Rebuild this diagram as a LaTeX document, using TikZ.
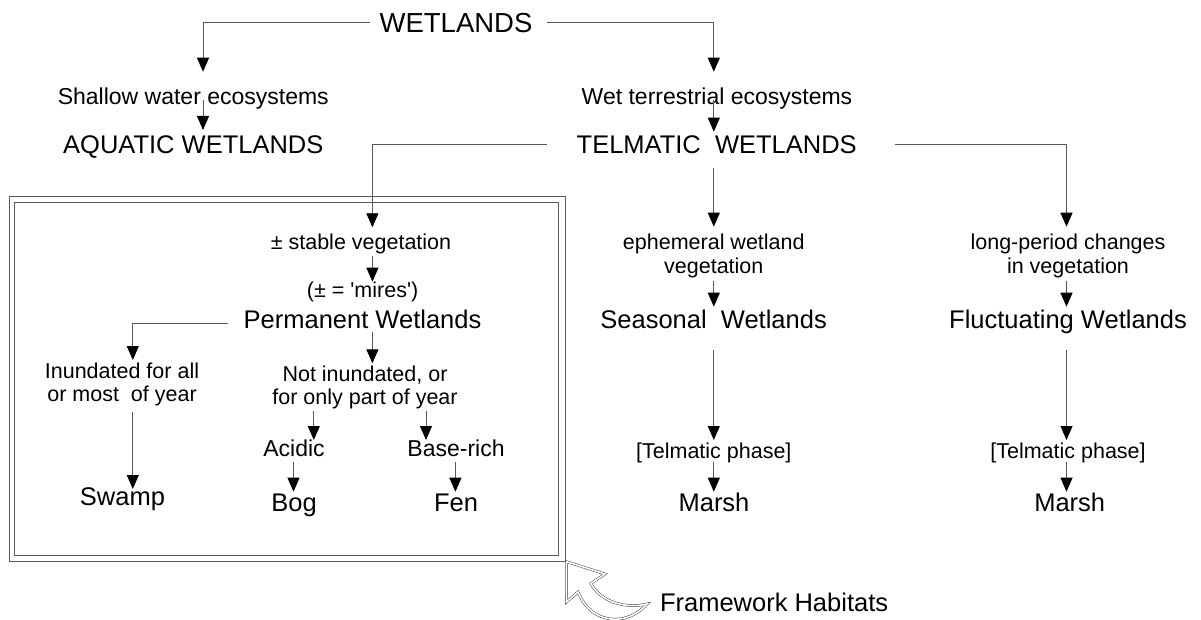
\documentclass[tikz,border=0pt]{standalone}
\usepackage{fontspec}
\setmainfont{Liberation Sans}
\usetikzlibrary{arrows.meta,calc}
\newcommand\fW{\fontsize{27.5}{30}\selectfont}
\newcommand\fB{\fontsize{25.5}{28}\selectfont}
\newcommand\fM{\fontsize{23}{26}\selectfont}
\newcommand\fS{\fontsize{21.5}{23.5}\selectfont}
\begin{document}
\begin{tikzpicture}[x=1pt,y=-1pt,
  lbl/.style={inner sep=0pt, outer sep=0pt, text=black},
  conn/.style={draw=black!65, line width=0.9pt, -{Triangle[length=14pt,width=12pt,color=black]}},
  frameline/.style={draw=black!65, line width=0.8pt},
  bigarrow/.style={draw=black!75, line width=0.5pt, double=white, double distance=1.6pt, line join=miter}
]
\useasboundingbox (0,0) rectangle (1201,620);
% column x positions
\coordinate (cA) at (203,0);
\coordinate (cT) at (713.8,0);
\coordinate (cP) at (372.4,0);
\coordinate (cR) at (1066.5,0);
\coordinate (cS) at (132.8,0);
\coordinate (cAc) at (313.8,0);
\coordinate (cBr) at (426,0);
\coordinate (cBg) at (293.5,0);
\coordinate (cFn) at (455.4,0);

% texts
\node[lbl, font=\fW, anchor=base] (wet) at (456,32.3) {WETLANDS};
\node[lbl, font=\fM, anchor=base] (shallow) at (193.3,105) {Shallow water ecosystems};
\node[lbl, font=\fM, anchor=base] (terr) at (717,105) {Wet terrestrial ecosystems};
\node[lbl, font=\fB, anchor=base] (aqua) at (193.3,153.3) {AQUATIC WETLANDS};
\node[lbl, font=\fB, anchor=base] (telm) at (716.7,153.3) {TELMATIC\ \ WETLANDS};
\node[lbl, font=\fS, anchor=base] (stable) at (361,250) {± stable vegetation};
\node[lbl, font=\fS, anchor=base] (mires) at (362.6,297) {(± = \textquotesingle mires\textquotesingle)};
\node[lbl, font=\fB, anchor=base] (perm) at (362.5,328) {Permanent Wetlands};
\node[lbl, font=\fS, align=center, anchor=north] (ephem) at (713.8,234.1) {ephemeral wetland\\vegetation};
\node[lbl, font=\fS, align=center, anchor=north] (longp) at (1068,234.1) {long-period changes\\in vegetation};
\node[lbl, font=\fB, anchor=base] (seas) at (713.6,328) {Seasonal\ \ Wetlands};
\node[lbl, font=\fB, anchor=base] (fluct) at (1068,328) {Fluctuating Wetlands};
\node[lbl, font=\fS, anchor=base] (tel1) at (713.8,458.5) {[Telmatic phase]};
\node[lbl, font=\fS, anchor=base] (tel2) at (1068,458.5) {[Telmatic phase]};
\node[lbl, font=\fB, anchor=base] (marsh1) at (714,511.7) {Marsh};
\node[lbl, font=\fB, anchor=base] (marsh2) at (1069.7,511.7) {Marsh};
\node[lbl, font=\fS, align=center, anchor=north] (inund) at (122,362.6) {Inundated for all\\or most\ \ of year};
\node[lbl, font=\fS, align=center, anchor=north] (notinund) at (365,365.6) {Not inundated, or\\for only part of year};
\node[lbl, font=\fM, anchor=base] (acidic) at (294,456.7) {Acidic};
\node[lbl, font=\fM, anchor=base] (baserich) at (456,456.7) {Base-rich};
\node[lbl, font=\fB, anchor=base] (bog) at (294,511.7) {Bog};
\node[lbl, font=\fB, anchor=base] (fen) at (456,511.7) {Fen};
\node[lbl, font=\fB, anchor=base] (swamp) at (122.5,505) {Swamp};
\node[lbl, font=\fB, anchor=base west] (frame) at (660,611.7) {Framework Habitats};

% connectors
\draw[conn] ($(wet.west)+(-10,0)$) -| ($(cA |- shallow.base)+(0,-33.3)$);
\draw[conn] ($(wet.east)+(15,0)$) -| ($(cT |- terr.base)+(0,-33.3)$);
\draw[conn] ($(cA |- shallow.base)+(0,-5)$) -- ($(cA |- aqua.base)+(0,-23.3)$);
\draw[conn] ($(cT |- terr.base)+(0,-5)$) -- ($(cT |- telm.base)+(0,-21.6)$);
\draw[conn] ($(telm.west)+(-30,0)$) -| ($(cP |- stable.base)+(0,-22.7)$);
\draw[conn] ($(telm.east)+(38,0)$) -| ($(cR |- longp.north)+(0,-7.4)$);
\draw[conn] ($(cT |- telm.base)+(0,15)$) -- ($(cT |- ephem.north)+(0,-7.4)$);
\draw[conn] ($(cP |- stable.base)+(0,6)$) -- ($(cP |- mires.base)+(0,-15.3)$);
\draw[conn] ($(perm.west)+(-16,4.4)$) -| ($(cS |- inund.north)+(0,-2.6)$);
\draw[conn] ($(cP |- perm.base)+(0,3.7)$) -- ($(cP |- notinund.north)+(0,-2.3)$);
\draw[conn] ($(cS |- inund.south)+(0,6.2)$) -- ($(cS |- swamp.base)+(0,-16)$);
\draw[conn] ($(cAc |- notinund.south)+(0,2)$) -- ($(cAc |- acidic.base)+(0,-16.7)$);
\draw[conn] ($(cBr |- notinund.south)+(0,2)$) -- ($(cBr |- baserich.base)+(0,-16.7)$);
\draw[conn] ($(cBg |- acidic.base)+(0,5)$) -- ($(cBg |- bog.base)+(0,-20)$);
\draw[conn] ($(cFn |- baserich.base)+(0,5)$) -- ($(cFn |- fen.base)+(0,-20)$);
\draw[conn] ($(cT |- ephem.south)+(0,3.7)$) -- ($(cT |- seas.base)+(0,-21.3)$);
\draw[conn] ($(cR |- longp.south)+(0,3.7)$) -- ($(cR |- fluct.base)+(0,-21.3)$);
\draw[conn] ($(cT |- seas.base)+(0,22)$) -- ($(cT |- tel1.base)+(0,-18.5)$);
\draw[conn] ($(cR |- fluct.base)+(0,22)$) -- ($(cR |- tel2.base)+(0,-18.5)$);
\draw[conn] ($(cT |- tel1.base)+(0,3.2)$) -- ($(cT |- marsh1.base)+(0,-20)$);
\draw[conn] ($(cR |- tel2.base)+(0,3.2)$) -- ($(cR |- marsh2.base)+(0,-20)$);

% framework box (double line)
\draw[frameline] (9.6,196.7) rectangle (565.6,561);
\draw[frameline] (14.5,202.3) rectangle (558.7,555.7);

% hollow curved arrow
\draw[bigarrow] (566.7,561.7) -- (605,574) -- (591,583.5)
  .. controls (598,598) and (620,610) .. (647,604)
  .. controls (628,626) and (592,626) .. (578,592)
  -- (566.5,602) -- cycle;
\end{tikzpicture}
\end{document}
